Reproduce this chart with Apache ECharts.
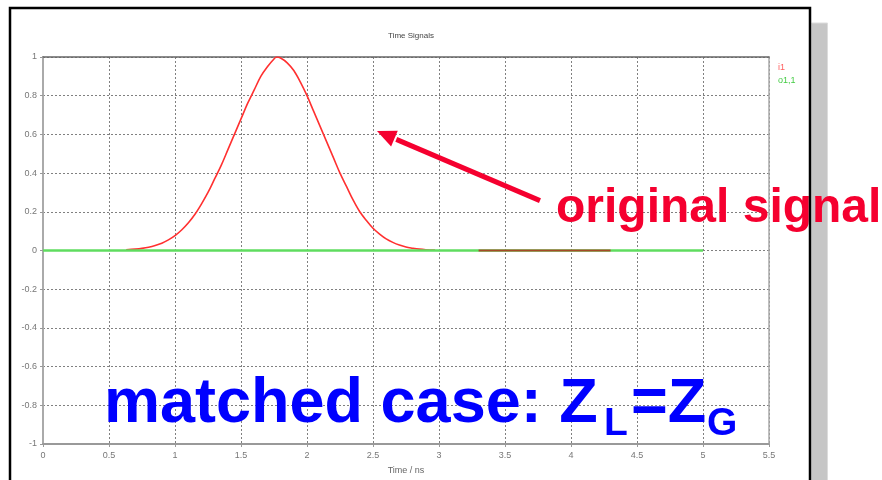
<!DOCTYPE html>
<html><head><meta charset="utf-8">
<script src="https://cdn.jsdelivr.net/npm/echarts@6/dist/echarts.min.js"></script>
<style>html,body{margin:0;padding:0;background:#fff}#c{width:882px;height:480px}</style>
</head><body><div id="c"></div><script>
// ---- data ----
const i1X = [0.63,0.70,0.75,0.80,0.85,0.90,0.95,1.00,1.05,1.10,1.15,1.20,1.25,1.30,1.35,1.40,1.45,1.50,1.55,1.60,1.65,1.70,1.75,1.77,1.80,1.85,1.90,1.95,2.00,2.05,2.10,2.15,2.20,2.25,2.30,2.35,2.40,2.45,2.50,2.55,2.60,2.65,2.70,2.75,2.80,2.85,2.90,2.97];
const i1Y = [0.003,0.007,0.011,0.017,0.026,0.038,0.055,0.077,0.106,0.142,0.186,0.24,0.30,0.37,0.44,0.52,0.60,0.68,0.76,0.83,0.90,0.95,0.99,1.00,0.995,0.97,0.93,0.87,0.80,0.72,0.64,0.56,0.48,0.40,0.33,0.26,0.20,0.155,0.115,0.085,0.06,0.042,0.028,0.018,0.012,0.007,0.004,0.002];
const i1TailX = [3.3, 4.3];
const i1TailY = [0, 0];
const o11X = [0, 5];
const o11Y = [0, 0];
const xTickStep = 0.5, yTickStep = 0.2;
const arrowTail = [3.765, 0.258];
const arrowTip = [2.53, 0.617];
const titleText = 'Time Signals';
const xName = 'Time / ns';

const pairs = (xs, ys) => xs.map((x, i) => [x, ys[i]]);
const chart = echarts.init(document.getElementById('c'), null, {renderer:'canvas'});
const lblFont = 'Liberation Sans, Arial, sans-serif';
const gridLine = {color: '#808080', type: [2, 2], width: 1};
const option = {
  animation: false,
  backgroundColor: '#fff',
  title: {text: titleText, left: 406, top: 27, textAlign: 'center',
    textStyle: {fontSize: 8, color: '#444', fontWeight: 'normal', fontFamily: lblFont}},
  legend: {orient: 'vertical', left: 768, top: 58, itemWidth: 0, itemHeight: 0, itemGap: 4,
    icon: 'rect', selectedMode: false,
    textStyle: {fontSize: 9, fontFamily: lblFont},
    data: [{name: 'i1', textStyle: {color: '#ff6060'}}, {name: 'o1,1', textStyle: {color: '#44cc44'}}]},
  grid: {left: 43, right: 113, top: 57, bottom: 33},
  xAxis: [{
    type: 'value', min: 0, max: 5.5, interval: xTickStep,
    axisLine: {onZero: false, lineStyle: {color: '#999', width: 2}},
    axisTick: {show: true, length: 3, lineStyle: {color: '#999'}},
    axisLabel: {color: '#777', fontSize: 9, margin: 7, fontFamily: lblFont},
    splitLine: {show: true, lineStyle: gridLine},
    name: xName, nameLocation: 'middle', nameGap: 22,
    nameTextStyle: {color: '#666', fontSize: 9, fontFamily: lblFont}
  }, {
    type: 'value', min: 0, max: 5.5, position: 'top',
    axisLine: {show: true, onZero: false, lineStyle: {color: '#666', width: 1.5}},
    axisTick: {show: false}, axisLabel: {show: false}, splitLine: {show: false}
  }],
  yAxis: [{
    type: 'value', min: -1, max: 1, interval: yTickStep,
    axisLine: {show: true, onZero: false, lineStyle: {color: '#aaa', width: 2}},
    axisTick: {show: true, length: 3, lineStyle: {color: '#999'}},
    axisLabel: {color: '#777', fontSize: 9, margin: 6, fontFamily: lblFont},
    splitLine: {show: true, lineStyle: gridLine}
  }, {
    type: 'value', min: -1, max: 1, position: 'right',
    axisLine: {show: true, onZero: false, lineStyle: {color: '#aaa', width: 1.5}},
    axisTick: {show: false}, axisLabel: {show: false}, splitLine: {show: false}
  }],
  series: [
    {name: 'i1', type: 'line', data: pairs(i1X, i1Y), symbol: 'none', smooth: 0.35,
      color: '#ff3030', lineStyle: {color: '#ff3030', width: 1.6}, z: 2},
    {name: 'o1,1', type: 'line', data: pairs(o11X, o11Y), symbol: 'none',
      color: '#5fdc5f', lineStyle: {color: '#5fdc5f', width: 2.5}, z: 3},
    {name: 'i1', type: 'line', data: pairs(i1TailX, i1TailY), symbol: 'none',
      color: '#ff3030', lineStyle: {color: '#b0301c', width: 2, opacity: 0.85}, z: 4}
  ]
};
chart.setOption(option);

const a0 = chart.convertToPixel({gridIndex: 0}, arrowTail);
const a1 = chart.convertToPixel({gridIndex: 0}, arrowTip);
const dx = a0[0] - a1[0], dy = a0[1] - a1[1];
const len = Math.hypot(dx, dy), ux = dx / len, uy = dy / len;
const headL = 19, headW = 8.5;
const bx = a1[0] + ux * headL, by = a1[1] + uy * headL;
const px = -uy, py = ux;
const red = '#f5002f';
chart.setOption({
  graphic: [
    {type: 'rect', z: 1, shape: {x: 811.5, y: 23, width: 16, height: 470},
      style: {fill: '#c6c6c6', stroke: '#dcdcdc', lineWidth: 1}},
    {type: 'line', z: 50, shape: {x1: a0[0], y1: a0[1], x2: bx + ux * 2, y2: by + uy * 2},
      style: {stroke: red, lineWidth: 5}},
    {type: 'polygon', z: 50, shape: {points: [[a1[0], a1[1]], [bx + px * headW, by + py * headW], [bx - px * headW, by - py * headW]]},
      style: {fill: red}},
    {type: 'text', z: 60, left: 556, top: 185, style: {text: 'original signal', fill: red,
      font: 'bold 48px "Liberation Sans", Arial, sans-serif'}},
    {type: 'text', z: 60, left: 104, top: 373, style: {text: 'matched case: Z', fill: '#0000ff',
      font: 'bold 63px "Liberation Sans", Arial, sans-serif'}},
    {type: 'text', z: 60, left: 604, top: 405, style: {text: 'L', fill: '#0000ff',
      font: 'bold 39px "Liberation Sans", Arial, sans-serif'}},
    {type: 'text', z: 60, left: 631, top: 373, style: {text: '=Z', fill: '#0000ff',
      font: 'bold 63px "Liberation Sans", Arial, sans-serif'}},
    {type: 'text', z: 60, left: 707, top: 405, style: {text: 'G', fill: '#0000ff',
      font: 'bold 39px "Liberation Sans", Arial, sans-serif'}},
    {type: 'rect', z: 70, shape: {x: 10, y: 8, width: 800, height: 490},
      style: {fill: 'none', stroke: '#000', lineWidth: 2.5}}
  ]
});
</script></body></html>
